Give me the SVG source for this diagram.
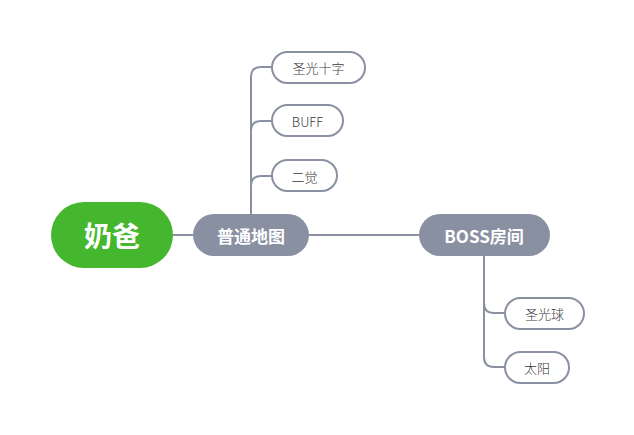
<svg xmlns="http://www.w3.org/2000/svg" width="634" height="435" viewBox="0 0 634 435">
<style>
text{font-family:"Noto Sans CJK SC","Liberation Sans",sans-serif;text-anchor:middle;dominant-baseline:central}
.root{fill:#45B72E}
.main{fill:#8990A2}
.leaf{fill:#fff;stroke:#8990A2;stroke-width:2}
.rt{fill:#fff;font-size:28px;font-weight:bold}
.mt{fill:#fff;font-size:17px;font-weight:bold}
.lt{fill:#3a3a3a;font-size:13px;font-weight:300}
.conn path{fill:none;stroke:#8990A2;stroke-width:2}
</style>
<rect width="634" height="435" fill="#fff"/>
<g class="conn">
<path d="M173 235 H193"/>
<path d="M309 235 H419"/>
<path d="M251 214 V77 Q251 67 261 67 H272"/>
<path d="M251 131 Q251 121 261 121 H272"/>
<path d="M251 186 Q251 176 261 176 H272"/>
<path d="M484 256 V357 Q484 367 494 367 H505"/>
<path d="M484 303 Q484 313 494 313 H505"/>
</g>
<g id="root"><rect class="root" x="51" y="202" width="122" height="66" rx="33"/><text class="rt" x="112" y="235">奶爸</text></g>
<g id="n1"><rect class="main" x="193" y="214" width="116" height="42" rx="21"/><text class="mt" x="251" y="235">普通地图</text></g>
<g id="n2"><rect class="main" x="419" y="214" width="131" height="42" rx="21"/><text class="mt" x="484" y="235">BOSS房间</text></g>
<g id="c1"><rect class="leaf" x="272" y="52" width="93" height="31" rx="15.5"/><text class="lt" x="318.5" y="67">圣光十字</text></g>
<g id="c2"><rect class="leaf" x="272" y="105" width="71" height="31" rx="15.5"/><text class="lt" x="307.5" y="121">BUFF</text></g>
<g id="c3"><rect class="leaf" x="272" y="160" width="65" height="31" rx="15.5"/><text class="lt" x="304.5" y="176">二觉</text></g>
<g id="c4"><rect class="leaf" x="505" y="298" width="79" height="31" rx="15.5"/><text class="lt" x="544.5" y="313">圣光球</text></g>
<g id="c5"><rect class="leaf" x="505" y="352" width="64" height="31" rx="15.5"/><text class="lt" x="537" y="367">太阳</text></g>
</svg>
